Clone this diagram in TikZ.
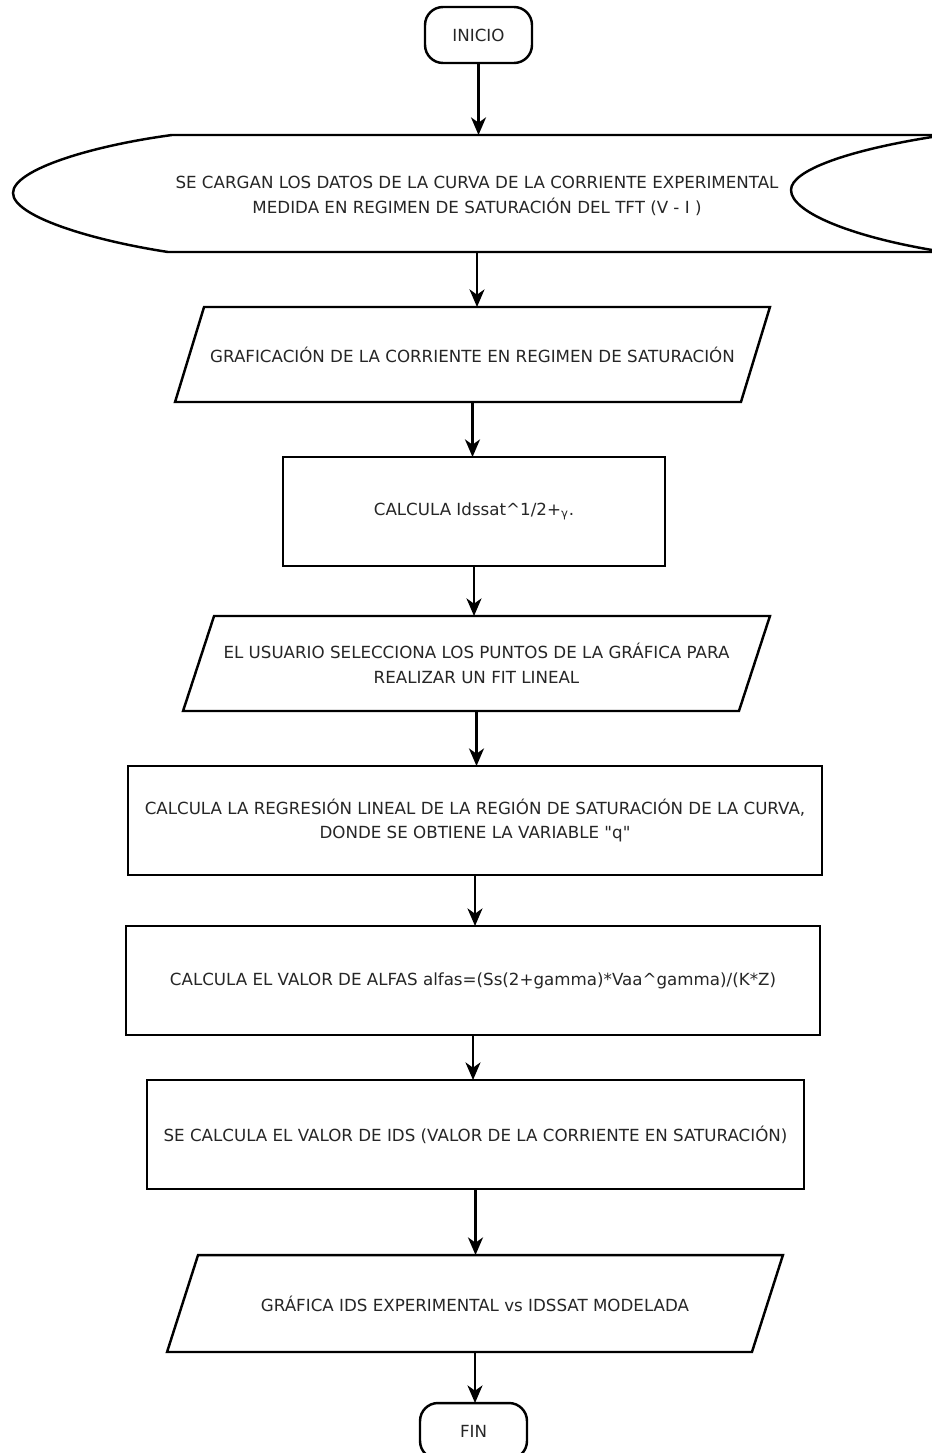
\documentclass[tikz,border=0pt]{standalone}
\usepackage{fontspec}
\setmainfont{DejaVu Sans}
\usetikzlibrary{arrows.meta,calc}

% slanted input/output box drawn round a named frame node
\newcommand\ioframe[2]{%
  \draw[outline] ($(#1.north west)+(#2,0)$) -- ($(#1.north east)+(#2,0)$)
    -- ($(#1.south east)-(#2,0)$) -- ($(#1.south west)-(#2,0)$) -- cycle;}

\begin{document}
\begin{tikzpicture}[x=0.02cm,y=-0.02cm,
  outline/.style={draw=black,line width=1.4pt,line join=miter},
  txt/.style={font=\fontsize{9.5pt}{14pt}\selectfont,text=black!85,align=center,outer sep=0pt,inner sep=0pt},
  terminal/.style={txt,outline,rounded corners=0.36cm,minimum width=2.14cm,minimum height=1.12cm},
  process/.style={txt,outline,minimum height=2.18cm},
  frame/.style={txt,draw=none},
  flow/.style={draw=black,line width=1.4pt,-{Stealth[length=10pt,width=8.5pt,inset=3pt]}}]

\fill[white] (0,0) rectangle (932,1453);
\useasboundingbox (0,0) rectangle (932,1453);

% start
\node[terminal] (inicio) at (478.5,35) {INICIO};

% stored data: loaded measurement curve
\node[frame,minimum width=12cm,minimum height=2.34cm] (datos) at (477,196)
  {SE CARGAN LOS DATOS DE LA CURVA DE LA CORRIENTE EXPERIMENTAL\\
   MEDIDA EN REGIMEN DE SATURACIÓN DEL TFT (V - I )};
\draw[outline] (932,135) -- (172,135)
  .. controls (90,146) and (13,170) .. (13,193)
  .. controls (13,216) and (90,240) .. (168,252) -- (932,252);
\draw[outline] (932,137) .. controls (850,150) and (791,170) .. (791,190)
  .. controls (791,212) and (850,236) .. (932,250);

% plot of the saturation current
\node[frame,minimum width=11.32cm,minimum height=1.9cm] (graf) at (472.5,354.5)
  {GRAFICACIÓN DE LA CORRIENTE EN REGIMEN DE SATURACIÓN};
\ioframe{graf}{14.5}

\node[process,minimum width=7.64cm] (raiz) at (474,511.5)
  {CALCULA Idssat\textasciicircum 1/2+\textsubscript{γ}.};

% user selects the fitting range
\node[frame,minimum width=11.12cm,minimum height=1.9cm] (sel) at (476.5,663.5)
  {EL USUARIO SELECCIONA LOS PUNTOS DE LA GRÁFICA PARA\\REALIZAR UN FIT LINEAL};
\ioframe{sel}{15.5}

\node[process,minimum width=13.88cm] (reg) at (475,820.5)
  {CALCULA LA REGRESIÓN LINEAL DE LA REGIÓN DE SATURACIÓN DE LA CURVA,\\
   DONDE SE OBTIENE LA VARIABLE \textquotedbl q\textquotedbl};

\node[process,minimum width=13.88cm] (alfa) at (473,980.5)
  {CALCULA EL VALOR DE ALFAS alfas=(Ss(2+gamma)*Vaa\textasciicircum gamma)/(K*Z)};

\node[process,minimum width=13.14cm] (ids) at (475.5,1134.5)
  {SE CALCULA EL VALOR DE IDS (VALOR DE LA CORRIENTE EN SATURACIÓN)};

% final comparison plot
\node[frame,minimum width=11.7cm,minimum height=1.94cm] (comp) at (475,1303.5)
  {GRÁFICA IDS EXPERIMENTAL vs IDSSAT MODELADA};
\ioframe{comp}{15.5}

% end
\node[terminal] (fin) at (473.5,1431) {FIN};

% connectors, each one straight down from its source
\draw[flow] (inicio.south) -- (inicio.south |- 0,135);
\draw[flow] (datos.south |- 0,252) -- (datos.south |- graf.north);
\draw[flow] (graf.south) -- (graf.south |- raiz.north);
\draw[flow] (raiz.south) -- (raiz.south |- sel.north);
\draw[flow] (sel.south) -- (sel.south |- reg.north);
\draw[flow] (reg.south) -- (reg.south |- alfa.north);
\draw[flow] (alfa.south) -- (alfa.south |- ids.north);
\draw[flow] (ids.south) -- (ids.south |- comp.north);
\draw[flow] (comp.south) -- (comp.south |- fin.north);
\end{tikzpicture}
\end{document}
